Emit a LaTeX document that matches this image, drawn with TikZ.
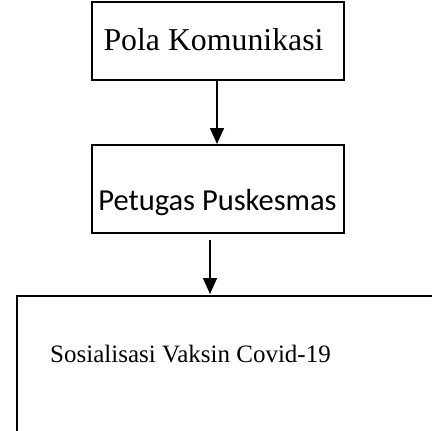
\documentclass[tikz,border=0pt]{standalone}
\usepackage{fontspec}
\setmainfont{Liberation Serif}
\newfontfamily\calibrifont{Carlito}
\usetikzlibrary{arrows.meta}

\begin{document}
\begin{tikzpicture}[x=1pt, y=-1pt,
  kotak/.style={draw, line width=2pt, inner sep=0pt},
  panah/.style={-{Triangle[length=16pt, width=14pt]}, line width=1.5pt}]
  % frame of the picture
  \clip (0,0) rectangle (432,431);
  % boxes
  \node[kotak, minimum width=252pt, minimum height=78pt] (pola) at (218,41) {};
  \node[kotak, minimum width=252pt, minimum height=88pt] (petugas) at (218,189) {};
  \node[kotak, minimum width=440pt, minimum height=160pt, anchor=north west] (sosialisasi) at (16,295) {};
  % texts
  \node[anchor=base, font=\fontsize{31.8}{36}\selectfont] (tpola) at (213.5,50) {Pola Komunikasi};
  \node[anchor=base, font=\calibrifont\fontsize{30.5}{36}\selectfont] (tpetugas) at (217.5,210) {Petugas Puskesmas};
  \node[anchor=base, font=\fontsize{25}{30}\selectfont] (tsosialisasi) at (190.5,362) {Sosialisasi Vaksin Covid-19};
  % arrows
  \coordinate (ujung) at (210,294);
  \draw[panah] ([xshift=-1pt]pola.south) -- ([xshift=-1pt]petugas.north);
  \draw[panah] ([xshift=-8pt,yshift=-6pt]petugas.south) -- (ujung);
\end{tikzpicture}
\end{document}
